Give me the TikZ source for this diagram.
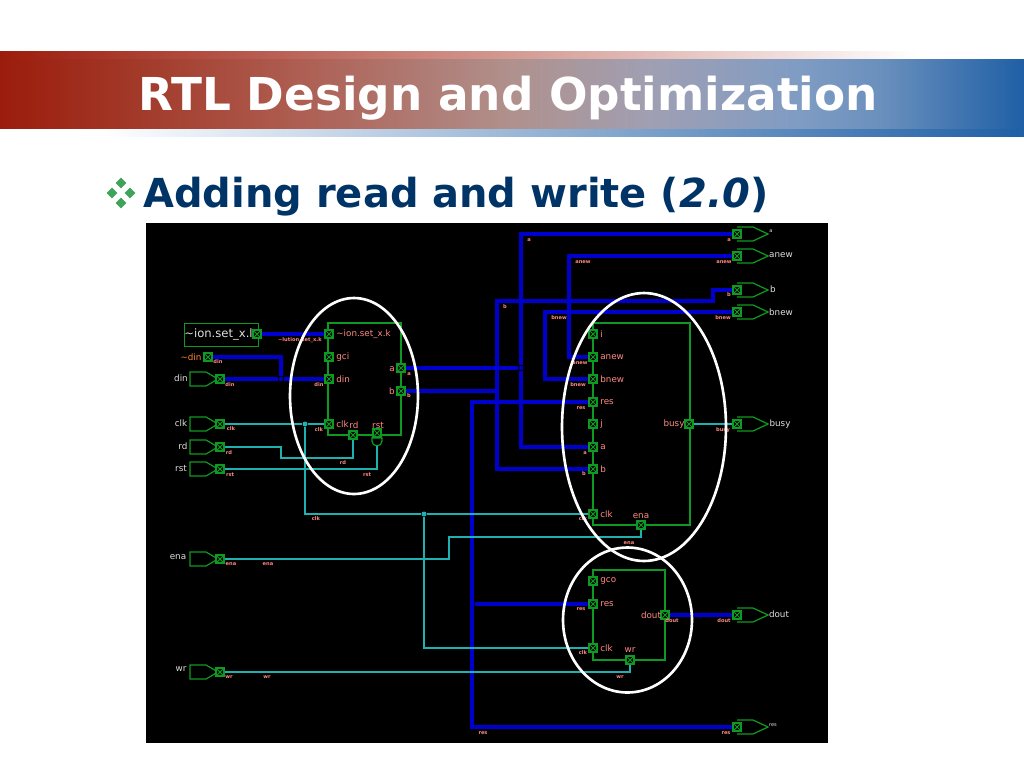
\documentclass[tikz,border=0pt]{standalone}
\usepackage{fontspec}
\setmainfont{DejaVu Sans}
\usetikzlibrary{shapes.geometric}
\definecolor{bandred}{HTML}{9C1C0C}
\definecolor{bandblue}{HTML}{1F5FA5}
\definecolor{bandb}{HTML}{A23A2A}
\definecolor{bandc}{HTML}{AE5E52}
\definecolor{bandd}{HTML}{B0918D}
\definecolor{bande}{HTML}{A09FB3}
\definecolor{bandf}{HTML}{7F9CC3}
\definecolor{bandg}{HTML}{6A90BD}
\definecolor{headnavy}{HTML}{003366}
\definecolor{bulletgreen}{HTML}{3FA35A}
\definecolor{schgreen}{HTML}{0E9A22}
\definecolor{schblue}{HTML}{0000CC}
\definecolor{schcyan}{HTML}{1FB0B0}
\definecolor{schpink}{HTML}{FF8A80}
\pgfdeclarehorizontalshading{bandfill}{100bp}{color(0bp)=(bandred);color(25bp)=(bandred);
  color(31.8bp)=(bandb);color(39.6bp)=(bandc);color(50bp)=(bandd);color(56.7bp)=(bande);
  color(64bp)=(bandf);color(68bp)=(bandg);color(75bp)=(bandblue);color(100bp)=(bandblue)}
\tikzset{
  grn/.style={draw=schgreen, line width=0.7pt},
  busw/.style={draw=schblue, line width=1.75pt},
  ctlw/.style={draw=schcyan, line width=0.65pt},
  portbox/.style={draw=schgreen, line width=0.7pt, fill=black, inner sep=0pt, minimum size=0.16cm,
    path picture={\draw[schgreen, line width=0.6pt] (path picture bounding box.north west) -- (path picture bounding box.south east)
      (path picture bounding box.south west) -- (path picture bounding box.north east);}},
  busdot/.style={circle, fill=schblue, inner sep=0pt, minimum size=0.09cm},
  ctldot/.style={circle, fill=schcyan, inner sep=0pt, minimum size=0.1cm},
  pinlab/.style={text=white!88!black, font=\fontsize{5}{6}\selectfont, inner sep=0pt},
  modlab/.style={text=schpink, font=\fontsize{5}{6}\selectfont, inner sep=0pt},
  tinylab/.style={text=schpink, font=\bfseries\fontsize{2.9}{3}\selectfont, inner sep=0pt},
  ringw/.style={draw=white, line width=1.5pt}
}
\begin{document}
\begin{tikzpicture}[x=0.02cm, y=-0.02cm]
    \useasboundingbox (0,0) rectangle (1024,768);
    % header band
    \shade[left color=bandred, right color=white] (0,51) rectangle (920,59);
    \shade[left color=white, right color=bandblue] (100,128) rectangle (1024,136);
    \shade[shading=bandfill] (0,59) rectangle (1024,128);
    \node[anchor=base west, inner sep=0pt, text=white, font=\bfseries\fontsize{25.8}{30}\selectfont] (title) at (138,110.5) {RTL Design and Optimization};
    \foreach \x/\y [count=\i] in {121/183, 112/193, 130/193, 121/203}
        \node[diamond, fill=bulletgreen, inner sep=0pt, minimum size=0.22cm] (bullet\i) at (\x,\y) {};
    \node[anchor=base west, inner sep=0pt, text=headnavy, font=\bfseries\fontsize{22.75}{28}\selectfont] (head) at (143,207) {Adding read and write (\textit{2.0})};
    % schematic
    \fill[black] (146,223) rectangle (828,743);
    \draw[grn] (328,323) rectangle (401,435);
    \draw[grn] (593,323) rectangle (690,525);
    \draw[grn] (593,570) rectangle (665,660);
    \node[grn, fill=black, anchor=north west, minimum width=1.48cm, minimum height=0.46cm, inner sep=0pt] (pion) at (184,323) {};
    % input pins
    \foreach \n/\y in {pdin/379, pclk/424, prd/447, prst/469, pena/559, pwr/672} {
        \draw[grn] (218,\y) -- (206,\y-7) -- (190,\y-7) -- (190,\y+7) -- (206,\y+7) -- cycle;
        \node[portbox] (\n) at (220,\y) {};
    }
    % output pins
    \foreach \n/\y in {outa/234, outanew/256, outb/290, outbnew/312, outbusy/424, outdout/615, outres/727} {
        \draw[grn] (737,\y-7) -- (753,\y-7) -- (768,\y) -- (753,\y+7) -- (737,\y+7);
        \node[portbox] (\n) at (737,\y) {};
    }
    % module ports
    \foreach \n/\x/\y in {pionp/257/334, pndin/208/357,
        mAion/329/334, mAgci/329/357, mAdin/329/379, mAclk/329/424, mAa/401/368, mAb/401/391, mArd/353/435, mArst/377/433,
        mBi/593/334, mBanew/593/357, mBbnew/593/379, mBres/593/402, mBj/593/424, mBa/593/447, mBb/593/469, mBclk/593/514, mBena/641/525, mBbusy/689/424,
        mCgco/593/581, mCres/593/604, mCclk/593/648, mCdout/665/615, mCwr/630/660}
        \node[portbox] (\n) at (\x,\y) {};
    \draw[grn] (372,438) -- (372,441) arc (180:0:5) -- (382,438) -- cycle;
    % junctions
    \node[busdot] (jdin) at (281,379) {};
    \node[busdot] (ja) at (521,368) {};
    \node[busdot] (jres) at (472,604) {};
    \node[ctldot] (jclka) at (305,424) {};
    \node[ctldot] (jclkb) at (424,514) {};
    \coordinate (jb) at (497,391);
    \coordinate (bstep) at (713,301);
    \coordinate (btop) at (497,301);
    \coordinate (restop) at (472,402);
    \coordinate (anewtop) at (569,256);
    \coordinate (bnewtop) at (545,312);
    \coordinate (rdb) at (281,458);
    \coordinate (rstg) at (377,446);
    \coordinate (enab) at (449,537);
    % bus wires
    \draw[busw] (pionp) -- (mAion);
    \draw[busw] (pndin) -| (jdin);
    \draw[busw] (pdin) -- (jdin) -- (mAdin);
    \draw[busw] (mAa) -- (ja);
    \draw[busw] (outa) -| (ja) |- (mBa);
    \draw[busw] (mAb) -- (jb);
    \draw[busw] (outb) -| (bstep) -- (btop) |- (mBb);
    \draw[busw] (mBres) -- (restop) |- (outres);
    \draw[busw] (jres) -- (mCres);
    \draw[busw] (outanew) -- (anewtop) |- (mBanew);
    \draw[busw] (outbnew) -- (bnewtop) |- (mBbnew);
    \draw[busw] (mCdout) -- (outdout);
    % control wires
    \draw[ctlw] (pclk) -- (jclka) -- (mAclk);
    \draw[ctlw] (jclka) |- (jclkb);
    \draw[ctlw] (jclkb) -- (mBclk);
    \draw[ctlw] (jclkb) |- (mCclk);
    \draw[ctlw] (prd) -| (rdb) -| (mArd);
    \draw[ctlw] (prst) -| (rstg);
    \draw[ctlw] (pena) -| (enab) -| (mBena);
    \draw[ctlw] (pwr) -| (mCwr);
    \draw[ctlw, line width=1pt] (mBbusy) -- (outbusy);
    % pin names
    \node[pinlab, font=\fontsize{6.6}{7}\selectfont, anchor=west] (lion) at (184,334) {\textasciitilde ion.set\_x.l};
    \node[text=orange!60!schpink, font=\fontsize{5}{6}\selectfont, inner sep=0pt] (lndin) at (191,357) {\textasciitilde din};
    \foreach \x/\y/\t [count=\i] in {181/378/din, 181/423/clk, 183/446/rd, 181/468/rst, 178/557/ena, 181/669/wr,
        781/255/anew, 773/289/b, 781/312/bnew, 780/424/busy, 779/614/dout}
        \node[pinlab] (pl\i) at (\x,\y) {\t};
    \node[pinlab, font=\fontsize{2.9}{3}\selectfont] (pl12) at (771,231) {a};
    \node[pinlab, font=\fontsize{2.9}{3}\selectfont] (pl13) at (773,725) {res};
    % port names
    \foreach \x/\y/\t [count=\i] in {336/334/\textasciitilde ion.set\_x.k, 336/357/gci, 336/379/din, 336/424/clk,
        600/334/i, 600/357/anew, 600/379/bnew, 600/402/res, 600/424/j, 600/447/a, 600/469/b, 600/514/clk,
        600/581/gco, 600/604/res, 600/648/clk}
        \node[modlab, anchor=west] (ml\i) at (\x,\y) {\t};
    \foreach \x/\y/\t [count=\i] in {354/425/rd, 378/425/rst, 392/369/a, 392/391/b, 641/516/ena, 674/424/busy, 651/615/dout, 630/650/wr}
        \node[modlab] (mn\i) at (\x,\y) {\t};
    % net names
    \foreach \x/\y/\t [count=\i] in {300/340/\textasciitilde lution\_set\_x.k, 218/362/din, 230/385/din, 319/385/din, 231/429/clk, 319/430/clk,
        229/453/rd, 343/463/rd, 230/475/rst, 367/475/rst, 409/374/a, 409/396/b,
        529/240/a, 729/240/a, 583/262/anew, 724/262/anew, 505/307/b, 729/295/b, 559/318/bnew, 723/318/bnew,
        580/363/anew, 578/385/bnew, 581/408/res, 585/453/a, 584/474/b, 723/430/busy,
        583/519/clk, 629/543/ena, 581/609/res, 672/621/dout, 724/621/dout, 583/653/clk, 620/677/wr, 726/733/res, 483/733/res,
        316/519/clk, 231/564/ena, 268/564/ena, 229/677/wr, 267/677/wr}
        \node[tinylab] (nl\i) at (\x,\y) {\t};
    % rings
    \node[ringw, ellipse, inner sep=0pt, minimum width=2.56cm, minimum height=3.92cm] (ringA) at (354,396) {};
    \node[ringw, ellipse, inner sep=0pt, minimum width=3.28cm, minimum height=5.36cm] (ringB) at (644,427) {};
    \node[ringw, ellipse, inner sep=0pt, minimum width=2.58cm, minimum height=2.9cm] (ringC) at (627.5,620) {};
\end{tikzpicture}
\end{document}
